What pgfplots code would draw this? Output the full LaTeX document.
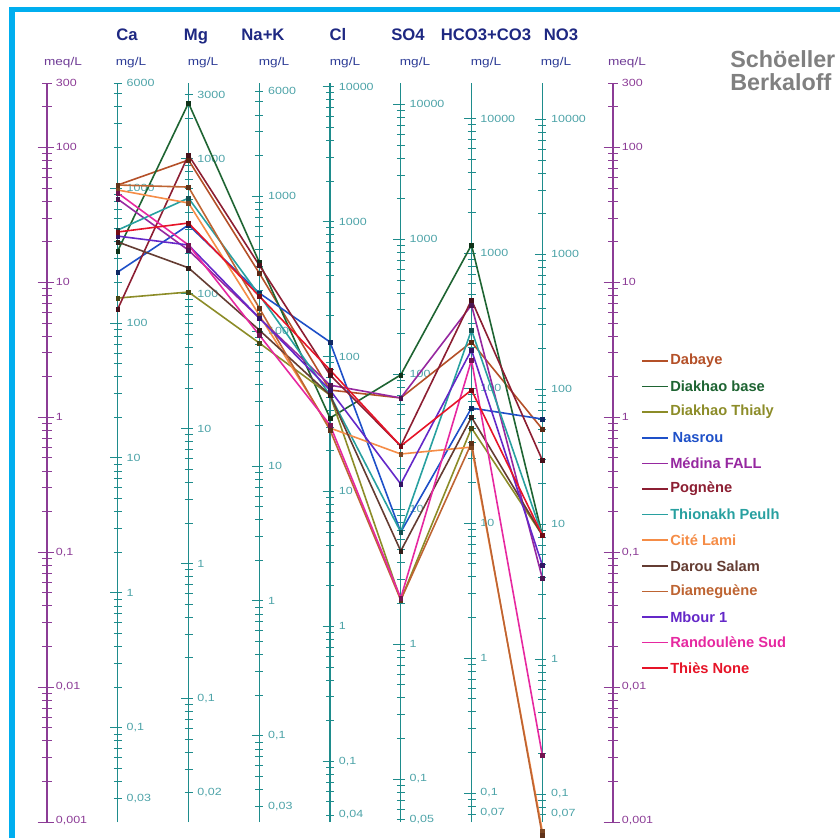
\documentclass[border=0pt]{standalone}
\usepackage{pgfplots}
\usepackage{pgfplotstable}
\pgfplotsset{compat=1.18}
\usepackage{fontspec}
\setmainfont{Liberation Sans}
\newfontfamily\tickfont{Liberation Sans}[FakeStretch=1.2]

% series colours
\definecolor{cDabaye}{HTML}{B45028}
\definecolor{cDiakhaoBase}{HTML}{1E6432}
\definecolor{cDiakhaoThialy}{HTML}{8C8C28}
\definecolor{cNasrou}{HTML}{1E50C8}
\definecolor{cMedina}{HTML}{9628A0}
\definecolor{cPognene}{HTML}{8C1E32}
\definecolor{cThionakh}{HTML}{28A0A0}
\definecolor{cCiteLami}{HTML}{F58C46}
\definecolor{cDarou}{HTML}{643C32}
\definecolor{cDiameguene}{HTML}{BE6432}
\definecolor{cMbour}{HTML}{6428C8}
\definecolor{cRandoulene}{HTML}{E628A0}
\definecolor{cThies}{HTML}{E61428}
% frame and scale colours
\definecolor{frameblue}{HTML}{00AEEF}
\definecolor{meqaxis}{HTML}{8C3C96}
\definecolor{colaxis}{HTML}{1E8C8C}
\definecolor{collabel}{HTML}{4DA3A8}
\definecolor{headnavy}{HTML}{1E2882}
\definecolor{unitnavy}{HTML}{2D3C96}
\definecolor{titlegray}{HTML}{808080}

% concentrations in meq/L : 1 Ca, 2 Mg, 3 Na+K, 4 Cl, 5 SO4, 6 HCO3+CO3, 7 NO3
\pgfplotstableread{
ion Dabaye DiakhaoBase DiakhaoThialy Nasrou Medina Pognene Thionakh CiteLami Darou Diameguene Mbour Randoulene Thies
1   52.6   17.1        7.64          11.9   41.4   6.34    24.4     48.3     19.9  52.6       22.0  45.9       23.6
2   80.6   213         8.47          26.6   17.3   87.7    42.1     38.7     12.8  50.8       18.9  18.9       27.5
3   11.7   14.1        3.55          8.33   5.44   13.4    8.05     5.72     4.43  6.45       5.44  4.07       7.91
4   1.59   0.986       1.46          3.61   1.73   2.06    1.46     0.832    1.46  0.804      1.59  0.876      2.24
5   1.39   2.06        0.0442        0.141  1.39   0.612   0.141    0.534    0.102 0.0442     0.320 0.0457     0.612
6   3.61   18.9        0.832         1.17   6.78   7.39    4.43     0.601    1.00  0.644      3.15  2.65       1.59
7   0.818  0.134       0.134         0.970  0.0643 0.482   0.134    0.00086  0.134 0.00080    0.0803 0.00314   0.134
}\ionsdata

% one mg/L scale on a column: x, equivalent weight, log10(min mg/L), log10(max mg/L), labels
\newcommand\ioncolumn[5]{%
  \draw[colaxis, line width=0.8pt] (axis cs:#1,-3) -- (axis cs:#1,2.47712);
  \pgfmathsetmacro\lw{log10(#2)}%
  \foreach \d in {-2,...,4} {%
    \foreach \k in {1,...,9} {%
      \pgfmathsetmacro\lv{\d+log10(\k)}%
      \pgfmathtruncatemacro\ok{(\lv>#3-0.0001)&&(\lv<#4+0.0001)}%
      \ifnum\ok=1
        \pgfmathsetmacro\ly{\lv-\lw}%
        \ifnum\k=1
          \draw[colaxis, line width=0.7pt] (axis cs:#1,\ly) ++(-5.5pt,0pt) -- ++(8.5pt,0pt);
        \else
          \draw[colaxis, line width=0.6pt] (axis cs:#1,\ly) ++(-3pt,0pt) -- ++(6pt,0pt);
        \fi
      \fi
    }%
  }%
  \foreach \v/\t in {#5} {%
    \pgfmathsetmacro\ly{log10(\v)-\lw}%
    \node[anchor=west, inner sep=0pt, text=collabel, font=\fontsize{7.8}{8}\tickfont]
      at (axis cs:#1,\ly) [xshift=6.5pt] {\t};
  }%
}

% one meq/L scale
\newcommand\meqscale[1]{%
  \draw[meqaxis, line width=0.8pt] (axis cs:#1,-3) -- (axis cs:#1,2.47712);
  \foreach \d in {-3,...,2} {%
    \foreach \k in {1,...,9} {%
      \pgfmathsetmacro\lv{\d+log10(\k)}%
      \pgfmathtruncatemacro\ok{\lv<2.4772}%
      \ifnum\ok=1
        \ifnum\k=1
          \draw[meqaxis, line width=0.7pt] (axis cs:#1,\lv) ++(-7pt,0pt) -- ++(12pt,0pt);
        \else
          \draw[meqaxis, line width=0.6pt] (axis cs:#1,\lv) ++(-3.75pt,0pt) -- ++(7.5pt,0pt);
        \fi
      \fi
    }%
  }%
  \draw[meqaxis, line width=0.7pt] (axis cs:#1,2.47712) ++(-3.75pt,0pt) -- ++(7.5pt,0pt);
  \foreach \v/\t in {300/300,100/100,10/10,1/1,0.1/{0,1},0.01/{0,01},0.001/{0,001}} {%
    \pgfmathsetmacro\ly{log10(\v)}%
    \node[anchor=west, inner sep=0pt, text=meqaxis, font=\fontsize{7.8}{8}\tickfont]
      at (axis cs:#1,\ly) [xshift=6.5pt] {\t};
  }%
}

\pgfplotsset{
  schoeller/.style={
    at={(35.25pt,-616.5pt)}, anchor=south west,
    width=424.5pt, height=554.25pt, scale only axis,
    xmin=0, xmax=8, axis lines=none, clip=false,
  },
  ion line/.style={line width=1.2pt, color=#1, mark=square*, mark size=1.4pt,
    mark options={fill=#1!50!black, draw=#1!50!black, line width=0.3pt}},
}

\begin{document}
\begin{tikzpicture}
\useasboundingbox (0,0) rectangle (630pt,-628.5pt);

% scales, drawn on a linear axis in decades of meq/L
\begin{axis}[schoeller, ymin=-3, ymax=2.47712]
\pgfplotsextra{
  \meqscale{0}
  \meqscale{8}
  \ioncolumn{1}{20.04}{-1.52288}{3.77815}{6000/6000,1000/1000,100/100,10/10,1/1,0.1/{0,1},0.03/{0,03}}
  \ioncolumn{2}{12.153}{-1.69897}{3.47712}{3000/3000,1000/1000,100/100,10/10,1/1,0.1/{0,1},0.02/{0,02}}
  \ioncolumn{3}{23.0}{-1.52288}{3.77815}{6000/6000,1000/1000,100/100,10/10,1/1,0.1/{0,1},0.03/{0,03}}
  \ioncolumn{4}{35.45}{-1.39794}{4}{10000/10000,1000/1000,100/100,10/10,1/1,0.1/{0,1},0.04/{0,04}}
  \ioncolumn{5}{48.03}{-1.30103}{4}{10000/10000,1000/1000,100/100,10/10,1/1,0.1/{0,1},0.05/{0,05}}
  \ioncolumn{6}{61.02}{-1.15490}{4}{10000/10000,1000/1000,100/100,10/10,1/1,0.1/{0,1},0.07/{0,07}}
  \ioncolumn{7}{62.0}{-1.15490}{4}{10000/10000,1000/1000,100/100,10/10,1/1,0.1/{0,1},0.07/{0,07}}
}
\end{axis}

% analyses, on the logarithmic meq/L axis
\begin{axis}[schoeller, ymode=log, ymin=0.001, ymax=300]
\addplot[ion line=cDabaye]        table[x=ion, y=Dabaye]        {\ionsdata};
\addplot[ion line=cDiakhaoBase]   table[x=ion, y=DiakhaoBase]   {\ionsdata};
\addplot[ion line=cDiakhaoThialy] table[x=ion, y=DiakhaoThialy] {\ionsdata};
\addplot[ion line=cNasrou]        table[x=ion, y=Nasrou]        {\ionsdata};
\addplot[ion line=cMedina]        table[x=ion, y=Medina]        {\ionsdata};
\addplot[ion line=cPognene]       table[x=ion, y=Pognene]       {\ionsdata};
\addplot[ion line=cThionakh]      table[x=ion, y=Thionakh]      {\ionsdata};
\addplot[ion line=cCiteLami]      table[x=ion, y=CiteLami]      {\ionsdata};
\addplot[ion line=cDarou]         table[x=ion, y=Darou]         {\ionsdata};
\addplot[ion line=cDiameguene]    table[x=ion, y=Diameguene]    {\ionsdata};
\addplot[ion line=cMbour]         table[x=ion, y=Mbour]         {\ionsdata};
\addplot[ion line=cRandoulene]    table[x=ion, y=Randoulene]    {\ionsdata};
\addplot[ion line=cThies]         table[x=ion, y=Thies]         {\ionsdata};
\end{axis}

% headings, frame and legend (pixel-like units, y downwards)
\begin{scope}[x=0.75pt, y=-0.75pt]
  \fill[frameblue] (9,7) rectangle (840,12);
  \fill[frameblue] (9,7) rectangle (15,838);

  \begin{scope}[every node/.style={anchor=base, text=headnavy, font=\fontsize{12.5}{13}\selectfont\bfseries, inner sep=0pt}]
    \node at (127,41) {Ca};
    \node at (196,41) {Mg};
    \node at (263,41) {Na+K};
    \node at (338,41) {Cl};
    \node at (408,41) {SO4};
    \node at (486,41) {HCO3+CO3};
    \node at (561,41) {NO3};
  \end{scope}
  \begin{scope}[every node/.style={anchor=base, text=unitnavy, font=\fontsize{8.5}{9}\tickfont, inner sep=0pt}]
    \node[text=meqaxis!70!unitnavy] at (63,66) {meq/L};
    \node at (131,66) {mg/L};
    \node at (203,66) {mg/L};
    \node at (274,66) {mg/L};
    \node at (345,66) {mg/L};
    \node at (415,66) {mg/L};
    \node at (486,66) {mg/L};
    \node at (556,66) {mg/L};
    \node[text=meqaxis!70!unitnavy] at (627,66) {meq/L};
  \end{scope}
  \node[anchor=west, inner sep=0pt, text=titlegray, font=\fontsize{17.5}{18}\selectfont\bfseries] at (730,59) {Schöeller};
  \node[anchor=west, inner sep=0pt, text=titlegray, font=\fontsize{17.5}{18}\selectfont\bfseries] at (730,82) {Berkaloff};

  % legend
  \foreach \c/\t [count=\i from 0] in {cDabaye/Dabaye, cDiakhaoBase/Diakhao base, cDiakhaoThialy/Diakhao Thialy,
      cNasrou/{\,Nasrou}, cMedina/Médina FALL, cPognene/Pognène, cThionakh/Thionakh Peulh, cCiteLami/Cité Lami,
      cDarou/Darou Salam, cDiameguene/Diameguène, cMbour/Mbour 1, cRandoulene/Randoulène Sud, cThies/Thiès None} {
    \pgfmathsetmacro\yy{361+25.6*\i}
    \draw[\c, line width=1.2pt] (642,\yy) -- (668,\yy);
    \node[anchor=west, inner sep=0pt, text=\c, font=\fontsize{11}{12}\selectfont\bfseries] at (670,\yy) {\t};
  }
\end{scope}
\end{tikzpicture}
\end{document}
